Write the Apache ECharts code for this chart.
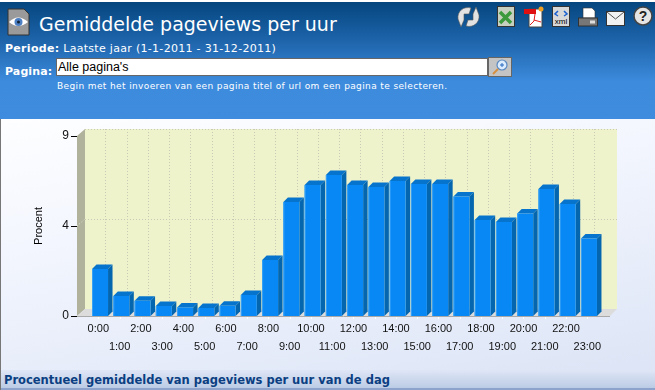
<!DOCTYPE html>
<html>
<head>
<meta charset="utf-8">
<title>Gemiddelde pageviews per uur</title>
<script src="https://cdn.jsdelivr.net/npm/echarts@6/dist/echarts.min.js"></script>
<style>
html,body{margin:0;padding:0;width:655px;height:390px;overflow:hidden;font-family:"DejaVu Sans",sans-serif;}
#page{position:relative;width:655px;height:390px;background:linear-gradient(170deg,#ffffff 20%,#f3f6fe 50%,#dde5f6 95%);}
#chart{position:absolute;left:0;top:0;width:655px;height:390px;}
#head{position:absolute;left:0;top:2px;width:655px;height:117px;background:linear-gradient(#05467f 0,#1f66ad 35%,#3d8bdd 68%,#3f8cde 100%);color:#fff;}
#head div,#head span,#head svg{position:absolute;white-space:nowrap;}
#title{left:39px;top:10px;font-size:19px;line-height:24px;}
#periode{left:5px;top:40px;font-size:11px;line-height:14px;letter-spacing:.3px;}
#pagina{left:5px;top:63px;font-size:11px;line-height:14px;font-weight:bold;letter-spacing:.1px;}
#invoer{left:56px;top:56px;width:429px;height:16px;background:#fff;border:1px solid #666;color:#000;font:12.5px/16px "Liberation Sans",sans-serif;padding-left:1px;box-sizing:content-box;}
#hint{left:57px;top:78px;font-size:9px;line-height:12px;letter-spacing:.38px;}
#voet{position:absolute;left:0;top:370px;width:655px;height:18px;background:linear-gradient(#dfe6f6,#bccbe5);color:#0b3f82;font:bold 11.5px/20px "DejaVu Sans",sans-serif;padding-left:4px;box-sizing:border-box;white-space:nowrap;overflow:hidden;}
#rand{position:absolute;left:0;top:388px;width:655px;height:2px;background:#8ea3cb;}
#kant{position:absolute;left:0;top:119px;width:1px;height:271px;background:#777;}
</style>
</head>
<body>
<div id="page">
  <div id="chart"></div>
  <div id="head">
    <svg style="left:7px;top:6px" width="23" height="28" viewBox="0 0 23 28"><path d="M1 1H17L22 6V27H1Z" fill="#9a9a9a" stroke="#333"/><path d="M2 14Q11 5 21 14Q11 22 2 14Z" fill="#fff"/><circle cx="11.500" cy="14" r="4" fill="#4a7fc4"/><circle cx="11.500" cy="14" r="1.500" fill="#123"/></svg>
    <div id="title">Gemiddelde pageviews per uur</div>
    <svg style="left:456px;top:4px" width="25" height="22" viewBox="0 0 25 22"><path d="M2 13C1 5 8 0 15 2L13 8L8 8L8 14L5 21Z" fill="#e2e2e2" stroke="#555" stroke-width=".6"/><path d="M23 9C24 17 17 22 10 20L12 14L17 14L17 8L20 1Z" fill="#e2e2e2" stroke="#555" stroke-width=".6"/></svg>
    <svg style="left:497px;top:4px" width="18" height="21" viewBox="0 0 18 21"><rect x=".5" y=".5" width="17" height="20" fill="#c6cfc0" stroke="#333"/><path d="M3 6L14 17M14 6L3 17" stroke="#3c9a3c" stroke-width="3.500"/></svg>
    <svg style="left:524px;top:4px" width="20" height="22" viewBox="0 0 20 22"><rect x="5" y="3" width="13" height="18" fill="#fff" stroke="#444"/><rect x="0" y="3" width="12" height="5" fill="#e01010"/><path d="M11 8L10 15L6 19M10 14L17 16" stroke="#e02020" fill="none"/><circle cx="17" cy="3" r="2.500" fill="#f0a020"/></svg>
    <svg style="left:552px;top:4px" width="18" height="21" viewBox="0 0 18 21"><rect x=".5" y=".5" width="17" height="20" fill="#d8d8d8" stroke="#333"/><path d="M6 5L3 8L6 10M12 5L15 8L12 10" stroke="#1a5fd0" stroke-width="1.500" fill="none"/><text x="9" y="18" font-size="8" text-anchor="middle" fill="#000" font-family="Liberation Sans">xml</text></svg>
    <svg style="left:578px;top:5px" width="20" height="20" viewBox="0 0 20 20"><path d="M5 1H14L17 4V11H5Z" fill="#fff" stroke="#333" stroke-width=".6"/><rect x=".5" y="11" width="19" height="8" fill="#777" stroke="#333"/><rect x="12" y="13.500" width="5" height="3" fill="#ddd"/></svg>
    <svg style="left:606px;top:9px" width="19" height="15" viewBox="0 0 19 15"><rect x=".5" y=".5" width="18" height="14" fill="#f2f2f2" stroke="#333"/><path d="M1 1L9.500 8L18 1" fill="none" stroke="#555"/></svg>
    <svg style="left:633px;top:4px" width="20" height="20" viewBox="0 0 20 20"><circle cx="10" cy="10" r="9" fill="#e4e4e4" stroke="#444" stroke-width="1.500"/><text x="10" y="15" font-size="14" font-weight="bold" text-anchor="middle" fill="#222" font-family="Liberation Sans">?</text></svg>
    <div id="periode"><b>Periode:</b> Laatste jaar (1-1-2011 - 31-12-2011)</div>
    <div id="pagina">Pagina:</div>
    <div id="invoer">Alle pagina's</div>
    <svg style="left:488px;top:55px" width="24" height="20" viewBox="0 0 24 20"><rect x=".5" y=".5" width="23" height="19" fill="#c4c4c4" stroke="#666"/><circle cx="14" cy="8" r="5" fill="#dcecff" stroke="#5a88c0" stroke-width="1.200"/><path d="M14 6V10M12 8H16" stroke="#2a6ac0"/><path d="M10 12L5 17" stroke="#d89040" stroke-width="2"/></svg>
    <div id="hint">Begin met het invoeren van een pagina titel of url om een pagina te selecteren.</div>
  </div>
  <div id="voet">Procentueel gemiddelde van pageviews per uur van de dag</div>
  <div id="rand"></div>
  <div id="kant"></div>
</div>
<script>
// uren op de x-as
var hours = ['0:00','1:00','2:00','3:00','4:00','5:00','6:00','7:00','8:00','9:00','10:00','11:00',
  '12:00','13:00','14:00','15:00','16:00','17:00','18:00','19:00','20:00','21:00','22:00','23:00'];
// procent pageviews per uur
var percent = [2.35,1.0,0.76,0.5,0.43,0.4,0.51,1.05,2.8,5.7,6.55,7.05,
  6.55,6.45,6.75,6.6,6.6,5.97,4.8,4.7,5.13,6.35,5.6,3.88];
var axisMax = 9;
var axisStep = 4.5;

// plot: voorvlak, diepte van de 3D-wanden
var plotLeft = 77, plotRight = 610, plotTop = 136, plotBottom = 316, wallDepth = 8;
var bandLeft = 87.7, bandWidth = 510.2;
var barDepth = 4.5, barWidth = 16, barShift = -6.3;

var myChart = echarts.init(document.getElementById('chart'), null, {renderer: 'canvas'});

var dotted = {stroke: '#c9c9b4', lineWidth: 1, lineDash: [1, 2]};

function poly(points, fill) {
  return {type: 'polygon', silent: true, shape: {points: points}, style: {fill: fill}};
}
function hline(x1, y1, x2, y2, style) {
  return {type: 'line', silent: true, shape: {x1: x1, y1: y1, x2: x2, y2: y2}, style: style};
}

// achterwand, zijwand, vloer
var d = wallDepth;
var midY = (plotTop + plotBottom) / 2;
var walls = [
  poly([[plotLeft + d, plotTop - d + 1], [plotRight + d - 1, plotTop - d + 1], [plotRight + d - 1, plotBottom - d + 1], [plotLeft + d, plotBottom - d + 1]], '#eff3cb'),
  poly([[plotLeft, plotTop], [plotLeft + d, plotTop - d + 1], [plotLeft + d, plotBottom - d + 1], [plotLeft, plotBottom]], '#b0b29b'),
  poly([[plotLeft, plotBottom], [plotLeft + d, plotBottom - d + 1], [plotRight + d - 1, plotBottom - d + 1], [plotRight, plotBottom]], '#dcdcdc'),
  hline(plotLeft + d, plotTop - d + 1.5, plotRight + d - 1, plotTop - d + 1.5, dotted),
  hline(plotLeft + d, midY - d + 1.5, plotRight + d - 1, midY - d + 1.5, dotted),
  hline(plotLeft, midY, plotLeft + d, midY - d + 1, {stroke: '#e4e4d8', lineWidth: 1, lineDash: [1, 2]}),
  hline(plotLeft, plotBottom + .5, plotRight, plotBottom + .5, {stroke: '#a9a9a9', lineWidth: 1})
].map(function (el) { el.z = -10; return el; });

function renderGridLine(params, api) {
  var top = api.coord([api.value(0), axisMax]);
  var base = api.coord([api.value(0), 0]);
  var x = Math.round(top[0] + 7) + .5;
  return {type: 'group', silent: true, children: [
    hline(x, top[1] - wallDepth + 1, x, base[1] - wallDepth + 1, dotted),
    hline(Math.round(base[0]) + .5, base[1] + 1, Math.round(base[0]) + .5, base[1] + 3, {stroke: '#fff', lineWidth: 1})
  ]};
}

function renderBar(params, api) {
  var top = api.coord([api.value(0), api.value(1)]);
  var base = api.coord([api.value(0), 0]);
  var x0 = top[0] + barShift, x1 = x0 + barWidth, y0 = top[1], y1 = base[1];
  return {type: 'group', silent: true, children: [
    poly([[x0, y0], [x0 + barDepth, y0 - barDepth], [x1 + barDepth, y0 - barDepth], [x1, y0]], '#0674cc'),
    poly([[x1, y0], [x1 + barDepth, y0 - barDepth], [x1 + barDepth, y1 - barDepth], [x1, y1]], '#0566b0'),
    poly([[x0, y0], [x1, y0], [x1, y1], [x0, y1]], '#0888f4'),
    hline(x0 + .5, y0, x0 + .5, y1, {stroke: '#3aa2f6', lineWidth: 1})
  ]};
}

var points = percent.map(function (v, i) { return [i, v]; });

myChart.setOption({
  animation: false,
  graphic: walls,
  grid: {left: bandLeft, top: plotTop, width: bandWidth, height: plotBottom - plotTop, containLabel: false},
  xAxis: {
    type: 'category',
    data: hours,
    axisLine: {show: false},
    axisTick: {show: false},
    splitLine: {show: false},
    axisLabel: {
      interval: 0,
      hideOverlap: false,
      margin: 4,
      fontFamily: 'Liberation Sans',
      fontSize: 11,
      lineHeight: 18,
      color: '#111',
      verticalAlign: 'top',
      formatter: function (value, index) { return index % 2 ? '\n' + value : value; }
    }
  },
  yAxis: {
    type: 'value',
    min: 0,
    max: axisMax,
    interval: axisStep,
    offset: bandLeft - plotLeft,
    name: 'Procent',
    nameLocation: 'middle',
    nameGap: 33,
    nameRotate: 90,
    nameTextStyle: {fontFamily: 'Liberation Sans', fontSize: 11, color: '#000'},
    axisLine: {show: true, lineStyle: {color: 'rgba(0,0,0,0)'}},
    axisTick: {show: true, length: 6, lineStyle: {color: '#000', width: 1}},
    splitLine: {show: false},
    axisLabel: {
      margin: 8,
      fontFamily: 'Liberation Sans',
      fontSize: 12,
      color: '#111',
      formatter: function (value) { return String(Math.floor(value)); }
    }
  },
  series: [
    {type: 'custom', renderItem: renderGridLine, data: points, encode: {x: 0, y: 1}, clip: false, silent: true, z: 1},
    {type: 'custom', name: 'Procent', renderItem: renderBar, data: points, encode: {x: 0, y: 1}, clip: false, z: 3}
  ]
});
</script>
</body>
</html>
